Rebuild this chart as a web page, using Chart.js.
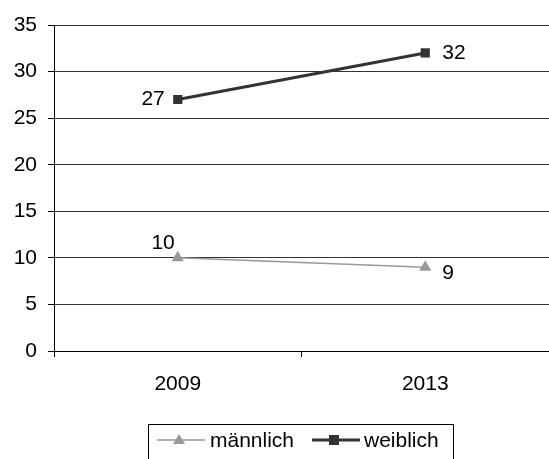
<!DOCTYPE html>
<html><head><meta charset="utf-8">
<script src="https://cdn.jsdelivr.net/npm/chart.js@4/dist/chart.umd.min.js"></script>
<style>html,body{margin:0;padding:0;background:#fff}#wrap{width:549px;height:459px}</style>
</head><body><div id="wrap"><canvas id="c" width="549" height="459"></canvas></div>
<script>
const categories = ['2009', '2013'];
const maennlich = [10, 9];
const weiblich = [27, 32];
const yTicks = [0, 5, 10, 15, 20, 25, 30, 35];
const seriesNames = ['männlich', 'weiblich'];

const FONT = '"Liberation Sans", Arial, sans-serif';
const FS = 21;

const labelPlugin = {
  id: 'labels',
  afterDatasetsDraw(chart) {
    const ctx = chart.ctx;
    ctx.save();
    ctx.font = FS + 'px ' + FONT;
    ctx.fillStyle = '#000';
    ctx.textBaseline = 'middle';
    const m = chart.getDatasetMeta(0).data;
    ctx.textAlign = 'right';
    ctx.fillText(String(maennlich[0]), m[0].x - 3, m[0].y - 15);
    ctx.textAlign = 'left';
    ctx.fillText(String(maennlich[1]), m[1].x + 17, m[1].y + 6);
    const w = chart.getDatasetMeta(1).data;
    ctx.textAlign = 'right';
    ctx.fillText(String(weiblich[0]), w[0].x - 13, w[0].y);
    ctx.textAlign = 'left';
    ctx.fillText(String(weiblich[1]), w[1].x + 17, w[1].y);
    ctx.restore();
  }
};

const legendPlugin = {
  id: 'customLegend',
  afterDraw(chart) {
    const ctx = chart.ctx;
    ctx.save();
    ctx.strokeStyle = '#000';
    ctx.lineWidth = 1;
    ctx.strokeRect(148.5, 424.5, 305, 50);
    const y = 440;
    ctx.strokeStyle = '#999';
    ctx.lineWidth = 1.5;
    ctx.beginPath(); ctx.moveTo(157, y); ctx.lineTo(205, y); ctx.stroke();
    ctx.fillStyle = '#999';
    ctx.beginPath(); ctx.moveTo(179, y - 6); ctx.lineTo(185, y + 4); ctx.lineTo(173, y + 4); ctx.closePath(); ctx.fill();
    ctx.fillStyle = '#000';
    ctx.font = FS + 'px ' + FONT;
    ctx.textBaseline = 'middle';
    ctx.textAlign = 'left';
    ctx.fillText(seriesNames[0], 210, y + 1);
    ctx.strokeStyle = '#333';
    ctx.lineWidth = 3;
    ctx.beginPath(); ctx.moveTo(312, y); ctx.lineTo(360, y); ctx.stroke();
    ctx.fillStyle = '#333';
    ctx.fillRect(329, y - 5, 10, 10);
    ctx.fillStyle = '#000';
    ctx.fillText(seriesNames[1], 364, y + 1);
    ctx.restore();
  }
};

new Chart(document.getElementById('c'), {
  type: 'line',
  data: {
    labels: categories,
    datasets: [
      {
        label: seriesNames[0], data: maennlich,
        borderColor: '#999', backgroundColor: '#999', borderWidth: 1.5,
        pointStyle: 'triangle', pointRadius: 7, pointBorderWidth: 0, tension: 0
      },
      {
        label: seriesNames[1], data: weiblich,
        borderColor: '#333', backgroundColor: '#333', borderWidth: 3,
        pointStyle: 'rect', pointRadius: 6.5, pointBorderWidth: 0, tension: 0
      }
    ]
  },
  options: {
    responsive: false, animation: false, devicePixelRatio: 1,
    layout: { autoPadding: false, padding: { top: 25, right: 0, left: 0, bottom: 0 } },
    plugins: { legend: { display: false }, tooltip: { enabled: false } },
    scales: {
      x: {
        offset: true,
        grid: { offset: true, display: true, drawOnChartArea: false, color: '#000', tickLength: 6, tickColor: '#000' },
        border: { color: '#000', width: 1 },
        ticks: { color: '#000', font: { family: FONT, size: FS }, padding: 15, maxRotation: 0 },
        afterFit(s) { s.height = 108; s.paddingLeft = 0; s.paddingRight = 0; }
      },
      y: {
        min: 0, max: 35,
        afterBuildTicks(s) { s.ticks = yTicks.map(v => ({ value: v })); },
        grid: { color: '#333', tickLength: 6, tickColor: '#000', lineWidth: 1 },
        border: { color: '#000', width: 1 },
        ticks: { color: '#000', font: { family: FONT, size: FS }, padding: 11 },
        afterFit(s) { s.width = 54; s.paddingTop = 0; s.paddingBottom = 0; }
      }
    }
  },
  plugins: [labelPlugin, legendPlugin]
});
</script></body></html>
